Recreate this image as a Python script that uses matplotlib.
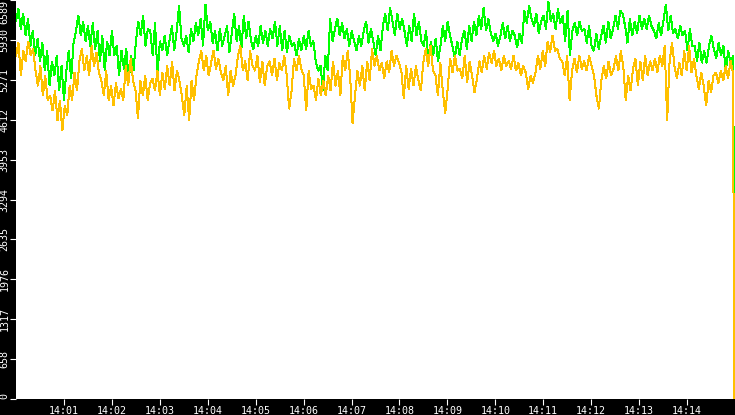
import numpy as np
import matplotlib
matplotlib.use("Agg")
import matplotlib.pyplot as plt

# ---- data ----
green_vals = [
    6240, 6440, 6110, 6370, 6000, 6280, 5830, 6080, 5670, 5950, 5580, 5880,
    5420, 5750, 5170, 5580, 5340, 5670, 5090, 5500, 4930, 5420, 5750, 5290, 5880,
    6080, 6340, 6000, 6240, 5910, 6160, 5830, 6210, 5780, 6080,
    5580, 6000, 5420, 5910, 5670, 6080, 5670, 5830, 5340, 5750, 5450, 5780, 5260, 5670, 5420,
    5910, 6240, 6000, 6330, 5830, 6110, 6080, 5670, 6210, 5340, 5910, 5750,
    6000, 5670, 5910, 6160, 5750, 6080, 6490, 5950, 5830, 6000, 5720, 6110, 5910, 6210,
    6000, 6280, 5830, 6520, 6080, 6240, 5880, 6080, 5750, 6110, 5830, 6000, 6160, 5720, 6040,
    6370, 5910, 6160, 5780, 6330, 5950, 6240, 5910, 5780, 6000, 5830,
    6160, 5880, 6080, 5830, 6110, 5950, 6240, 5830, 6160, 5750, 6080, 5720, 6000, 5830,
    5880, 5670, 5950, 5750, 6000, 5780, 6080, 5830, 5910, 5580, 5420, 5500, 5090,
    5670, 5420, 6280, 5910, 6110, 6290, 6000, 6210, 5950, 6110, 5830, 6080,
    5910, 5750, 6000, 5830, 6080, 6240, 5880, 6110, 5910, 5670, 6000, 5750,
    6160, 6360, 6080, 6460, 6240, 6000, 6370, 6110, 6280, 6080, 5830, 6160, 5910,
    6370, 6000, 6240, 5910, 5830, 6080, 5580, 5910, 5670, 5950, 5580, 5830,
    6160, 5910, 6240, 6000, 5830, 5620, 5910, 5670, 5950, 6080, 5780, 6160, 5910,
    6240, 6000, 6330, 6110, 6460, 6080, 6280, 6040, 5910, 6040, 5830, 6000,
    6210, 5950, 6160, 5910, 6080, 6000, 5800, 6040, 5880, 6410, 6210, 6490, 6280,
    6160, 6370, 6040, 6240, 6330, 6110, 6570, 6240, 6370, 6110, 6440, 6210,
    6330, 5910, 6410, 5670, 6080, 6210, 6000, 6240, 6080, 6110, 5880, 6160, 5830,
    5750, 6040, 5780, 6000, 6160, 5880, 6240, 5950, 6110, 6330, 6110, 6410, 6360,
    6160, 5880, 6280, 6000, 6240, 6040, 6330, 6110, 6280, 6110, 6330, 6160,
    6080, 5950, 6210, 6000, 6240, 6520, 6080, 6330, 6040, 6110, 5950, 6160, 6000,
    6080, 5750, 6110, 5830, 5830, 5580, 5880, 5550, 5750, 5550, 5830, 6000,
    5780, 5620, 5880, 5670, 5830, 5420, 5750, 5550, 5670,
]
green_end = 2490

orange_vals = [
    5670, 5880, 5340, 5750, 5580, 5910, 5670, 5780, 5420, 5170, 5500, 5010, 5340, 4930,
    5010, 4760, 5090, 4600, 4930, 4430, 4840, 4680, 5170, 4930, 5390, 5090,
    5580, 5780, 5420, 5670, 5340, 5830, 5500, 5720, 5390, 5260, 5010, 5420, 4930,
    5170, 4840, 5220, 4960, 5120, 4930, 5500, 5170, 5620, 5260,
    5090, 4640, 5260, 5010, 5340, 4930, 5220, 5290, 5090, 5420, 5010, 5390, 5120,
    5500, 5170, 5580, 5090, 5420, 5260, 5010, 4680, 5170, 4600, 5260, 4930, 5340,
    5580, 5750, 5420, 5670, 5340, 5550, 5750, 5450, 5620, 5390,
    5260, 5500, 5010, 5420, 5170, 5340, 5670, 5830, 5420, 5580, 5260, 5750, 5500,
    5420, 5670, 5220, 5580, 5170, 5500, 5580, 5340, 5620, 5260, 5550, 5420,
    5670, 5340, 4790, 5090, 5620, 5420, 5670, 5450, 5340, 4760, 5420, 5120,
    5170, 4930, 5290, 5010, 5260, 5010, 5340, 5090, 5580, 5170, 5420, 5010,
    5670, 5420, 5750, 5340, 4550, 5010, 5420, 5170, 5500, 5090, 5580, 5260,
    5780, 5500, 5670, 5420, 5550, 5290, 5580, 5390, 5750, 5500, 5670, 5550,
    5420, 4960, 5500, 5120, 5450, 5170, 5500, 5260, 5090, 5550,
    5780, 5500, 5830, 5420, 5340, 5010, 5550, 5090, 4710, 5120,
    5620, 5390, 5670, 5420, 5450, 5290, 5670, 5220, 5580, 5340, 5060, 5290,
    5580, 5390, 5670, 5450, 5720, 5550, 5750, 5500, 5620, 5420, 5670, 5500,
    5580, 5450, 5670, 5420, 5550, 5340, 5500, 5390, 5120, 5340, 5220, 5390,
    5670, 5450, 5750, 5500, 5910, 5720, 6000, 5750, 5780, 5620,
    5580, 5340, 5670, 4930, 5420, 5620, 5390, 5670, 5450, 5580, 5420, 5670, 5500,
    5340, 5010, 4790, 5260, 5500, 5290, 5580, 5340, 5450, 5670, 5420, 5750, 5500,
    4930, 5340, 5090, 5450, 5620, 5170, 5580, 5260, 5670, 5340, 5580, 5420,
    5620, 5390, 5670, 5500, 5830, 4600, 5580, 5880, 5500, 5290, 5550, 5340,
    5750, 5420, 5830, 5390, 5620, 5340, 5120, 5390, 5170, 4840, 5260, 5060, 5340,
    5390, 5220, 5420, 5260, 5500, 5290, 5580, 5390,
]
orange_end = 0

x_tick_secs = [60, 120, 180, 240, 300, 360, 420, 480, 540, 600, 660, 720, 780, 840]
x_tick_labels = ["14:01", "14:02", "14:03", "14:04", "14:05", "14:06", "14:07",
                 "14:08", "14:09", "14:10", "14:11", "14:12", "14:13", "14:14"]
y_tick_vals = [0, 658, 1317, 1976, 2635, 3294, 3953, 4612, 5271, 5930, 6589]
y_tick_labels = ["0", "658", "1317", "1976", "2635", "3294", "3953", "4612",
                 "5271", "5930", "6589"]

# ---- sample times (seconds after 14:00:00) ----
tg = np.append(np.linspace(0, 897.5, len(green_vals)), 899.2)
to = np.append(np.linspace(0, 897.5, len(orange_vals)), 899.2)
gy = np.append(green_vals, green_end)
oy = np.append(orange_vals, orange_end)

W, H = 735, 415
fig = plt.figure(figsize=(W / 100, H / 100), dpi=100, facecolor="black")
ax = fig.add_axes([16 / W, 16 / H, 719 / W, 399 / H])
ax.set_facecolor("white")

lw = 72 / 100
ax.plot(tg, gy, color="#00ff00", lw=lw, antialiased=False, solid_joinstyle="miter")
ax.plot(to, oy, color="#ffc000", lw=lw, antialiased=False, solid_joinstyle="miter")

ax.set_xlim(0, 900)
ax.set_ylim(0, 6589)
for s in ax.spines.values():
    s.set_visible(False)

font = dict(family="DejaVu Sans Mono", size=7.2)
ax.set_xticks(x_tick_secs)
ax.set_xticklabels(x_tick_labels, color="white", **font)
ax.set_yticks(y_tick_vals)
ax.set_yticklabels(y_tick_labels, color="white", rotation=90, va="center", **font)
ax.tick_params(axis="x", colors="white", length=4, width=0.8, pad=1.2, direction="out")
ax.tick_params(axis="y", colors="white", length=4, width=0.8, pad=0.8, direction="out")
ylabs = ax.get_yticklabels()
ylabs[0].set_va("bottom")
ylabs[-1].set_va("top")

fig.savefig("out.png", dpi=100, facecolor="black")
